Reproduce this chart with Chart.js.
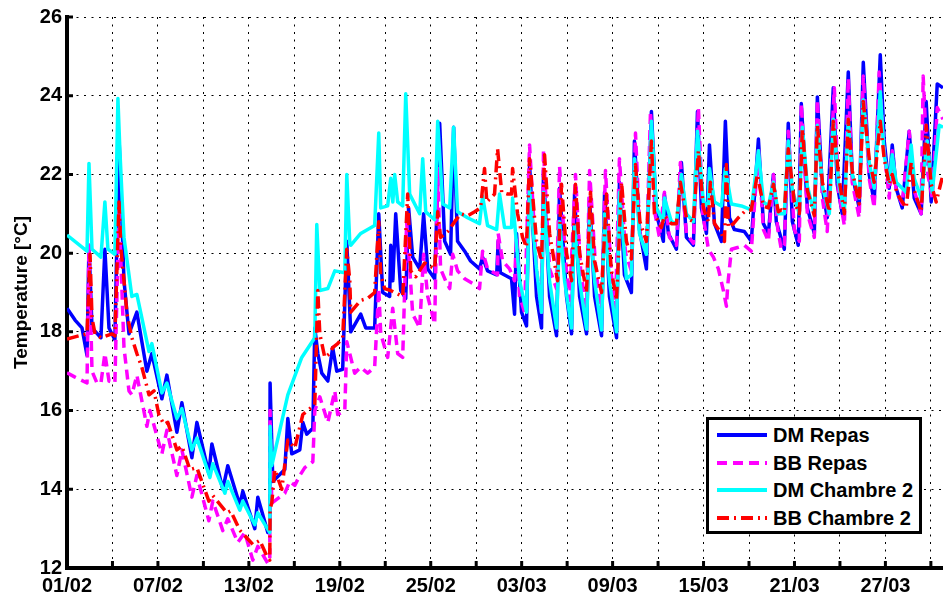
<!DOCTYPE html>
<html>
<head>
<meta charset="utf-8">
<title>Temperature</title>
<script src="https://cdn.jsdelivr.net/npm/chart.js@4.4.0/dist/chart.umd.min.js"></script>
<style>
  body { margin: 0; background: #fff; }
  #wrap { position: relative; width: 943px; height: 600px; }
  #legend {
    position: absolute; left: 706px; top: 417px; width: 216px; height: 117px;
    box-sizing: border-box; border: 3px solid #000; background: #fff;
    font: bold 20px "Liberation Sans", Arial, sans-serif; color: #000;
  }
  .row { position: absolute; left: 0; height: 28px; line-height: 28px; white-space: nowrap; }
  .row svg { position: absolute; left: 8px; top: 0; }
  .row span { position: absolute; left: 64px; top: 0; }
</style>
</head>
<body>
<div id="wrap">
  <canvas id="myChart" width="943" height="600"></canvas>
  <div id="legend"></div>
</div>
<script>
"use strict";

// days since 01/02, temperature in °C
const dmRepas = [[0,18.6],[0.53,18.3],[0.99,18.1],[1.32,17.4],[1.45,20.2],[1.65,18.1],[2.24,17.85],[2.5,20.1],[2.77,18.1],[3.16,17.8],[3.43,22.96],[3.76,19.3],[4.09,17.95],[4.61,18.5],[5.27,17.0],[5.6,17.45],[6.26,16.3],[6.59,16.9],[7.25,15.45],[7.58,16.2],[8.24,14.8],[8.57,15.7],[9.36,14.4],[9.56,15.15],[10.28,14.0],[10.61,14.6],[11.4,13.6],[11.6,13.95],[12.39,13.0],[12.59,13.8],[13.25,12.9],[13.38,12.95],[13.4,16.7],[13.58,14.2],[14.37,14.5],[14.57,15.8],[14.83,14.9],[15.36,15.0],[15.56,15.7],[15.82,15.4],[16.22,15.55],[16.35,18.1],[16.55,17.45],[16.81,16.95],[17.21,16.75],[17.53,17.6],[17.8,17.0],[18.19,17.05],[18.46,20.3],[18.72,18.0],[19.38,18.45],[19.71,18.1],[20.3,18.1],[20.57,21.0],[20.83,19.0],[21.29,18.9],[21.36,20.2],[21.5,19.3],[21.69,21.0],[22.02,19.05],[22.35,18.85],[22.54,21.15],[22.81,19.9],[23.27,19.6],[23.53,21.0],[23.8,19.6],[24.26,19.35],[24.59,23.3],[24.92,20.3],[25.31,19.97],[25.51,23.2],[25.77,20.3],[26.24,20.05],[26.63,19.8],[27.22,19.6],[27.42,19.9],[27.75,19.55],[28.35,19.45],[28.45,20.3],[28.6,19.5],[29.33,19.35],[29.53,18.45],[29.66,20.5],[29.99,18.5],[30.32,18.15],[30.52,22.25],[30.98,18.9],[31.31,18.1],[31.44,22.1],[31.84,18.9],[32.3,17.9],[32.5,21.65],[32.96,18.9],[33.29,17.95],[33.49,21.5],[33.82,18.9],[34.28,17.95],[34.48,21.4],[34.81,18.9],[35.27,17.9],[35.47,21.55],[35.79,18.9],[36.26,17.85],[36.45,21.8],[36.78,19.45],[37.24,19.0],[37.44,22.85],[37.77,20.6],[38.23,19.6],[38.56,23.6],[38.89,21.0],[39.35,20.3],[39.42,21.5],[39.68,20.5],[40.21,20.1],[40.54,22.3],[40.87,20.4],[41.33,20.2],[41.6,23.6],[41.86,21.15],[42.19,20.5],[42.39,22.75],[42.72,20.75],[43.18,20.3],[43.44,23.35],[43.71,20.9],[44.03,20.6],[44.69,20.55],[45.15,20.3],[45.62,22.9],[45.95,20.75],[46.28,20.5],[46.61,22.0],[46.8,20.8],[47.33,20.1],[47.59,23.3],[47.86,20.8],[48.25,20.2],[48.45,23.8],[48.85,21.15],[49.31,20.5],[49.51,23.97],[49.84,21.65],[50.16,20.9],[50.56,24.2],[50.82,21.75],[51.15,21.0],[51.55,24.6],[51.81,22.0],[52.27,21.15],[52.54,24.85],[52.93,22.0],[53.26,21.3],[53.66,25.04],[53.92,22.85],[54.25,21.65],[54.45,22.75],[54.71,21.65],[55.11,21.15],[55.57,23.1],[55.9,21.4],[56.36,21.0],[56.69,23.85],[57.02,21.3],[57.42,24.3],[57.8,24.2]];

const bbRepas = [[0,16.96],[0.53,16.85],[1.32,16.7],[1.45,20.2],[1.65,17.0],[1.98,16.7],[2.24,16.7],[2.5,17.45],[2.77,16.75],[3.16,16.7],[3.43,21.15],[3.76,17.6],[4.09,16.5],[4.28,16.4],[4.61,16.9],[5.27,15.6],[5.47,16.0],[6.26,14.9],[6.59,15.5],[7.25,14.35],[7.58,15.0],[8.24,13.8],[8.57,14.35],[9.36,13.2],[9.62,13.7],[10.28,12.95],[10.61,13.25],[11.27,12.65],[11.73,12.9],[12.26,12.2],[12.59,12.55],[13.25,12.12],[13.38,12.2],[13.4,16.0],[13.51,13.65],[14.37,13.9],[14.7,14.2],[15.03,14.1],[15.36,14.35],[15.69,14.55],[16.22,14.7],[16.35,16.0],[16.68,16.35],[17.21,15.7],[17.67,16.5],[17.86,15.9],[18.33,16.0],[18.46,17.75],[18.72,17.35],[18.98,16.95],[19.38,17.1],[19.84,16.95],[20.3,17.1],[20.57,19.1],[20.7,17.95],[21.16,17.35],[21.49,18.6],[21.82,17.45],[22.15,17.35],[22.41,20.8],[22.81,18.45],[23.01,18.3],[23.27,18.1],[23.53,19.97],[23.8,18.9],[24.26,18.2],[24.46,22.15],[24.65,19.6],[24.98,19.3],[25.25,19.1],[25.45,19.97],[25.77,19.55],[26.24,19.35],[26.9,19.2],[27.22,19.1],[27.42,20.05],[27.75,19.6],[28.41,19.45],[28.45,20.5],[28.74,19.8],[29.2,19.6],[29.53,19.3],[29.66,20.4],[29.86,18.9],[30.19,18.5],[30.52,22.75],[30.98,19.6],[31.31,18.5],[31.44,22.6],[31.84,19.6],[32.3,19.1],[32.5,22.2],[32.96,19.5],[33.16,18.8],[33.55,22.0],[33.9,19.5],[34.28,18.6],[34.48,22.1],[34.9,19.5],[35.27,18.6],[35.53,22.1],[35.9,19.5],[36.19,18.6],[36.45,22.4],[36.85,20.0],[37.24,19.55],[37.51,23.05],[37.8,20.5],[38.23,19.97],[38.5,23.6],[38.8,21.0],[39.09,20.4],[39.42,21.55],[39.75,20.4],[40.21,20.2],[40.47,22.3],[40.87,20.5],[41.33,20.25],[41.66,23.7],[41.95,21.0],[42.32,20.1],[42.65,19.9],[42.98,19.6],[43.31,19.05],[43.51,18.65],[43.6,19.2],[43.84,20.1],[44.3,20.15],[44.69,20.2],[45.15,20.05],[45.62,22.65],[45.95,20.6],[46.28,20.3],[46.61,22.0],[46.9,20.6],[47.13,20.1],[47.33,20.2],[47.59,23.1],[47.99,20.6],[48.32,20.3],[48.45,23.8],[48.85,21.0],[49.31,20.4],[49.51,23.9],[49.84,21.4],[50.16,20.55],[50.63,24.2],[50.9,21.6],[51.29,20.7],[51.55,24.45],[51.81,21.8],[52.27,20.9],[52.54,24.5],[52.93,21.9],[53.26,21.15],[53.59,24.6],[53.92,22.6],[54.25,21.4],[54.45,22.6],[54.71,21.6],[55.11,21.25],[55.57,23.1],[55.9,21.6],[56.36,21.0],[56.49,24.5],[56.8,22.0],[57.09,21.4],[57.42,23.7],[57.8,23.4]];

const dmChambre2 = [[0,20.46],[1.32,20.05],[1.45,22.28],[1.65,20.1],[2.24,19.9],[2.5,21.3],[2.7,20.1],[3.16,19.97],[3.36,23.93],[3.49,22.6],[3.76,20.4],[4.28,18.9],[4.61,18.95],[5.41,17.5],[5.6,17.7],[6.26,16.45],[6.59,16.7],[7.25,15.8],[7.58,16.05],[8.24,15.0],[8.57,15.3],[9.43,14.3],[9.62,14.65],[10.42,13.9],[10.61,14.2],[11.4,13.47],[11.6,13.7],[12.39,13.1],[12.59,13.4],[13.38,12.9],[13.4,15.6],[13.51,14.6],[14.57,16.4],[15.49,17.35],[16.35,17.85],[16.48,20.73],[16.68,19.05],[17.21,19.1],[17.67,19.55],[18.33,19.5],[18.46,22.0],[18.66,20.25],[18.72,20.2],[19.38,20.5],[20.3,20.7],[20.57,23.05],[20.7,21.15],[21.16,21.2],[21.36,21.9],[21.5,21.3],[21.62,22.0],[21.82,21.3],[22.15,21.2],[22.35,24.05],[22.61,21.5],[23.27,21.0],[23.47,22.4],[23.67,21.05],[24.26,20.85],[24.46,23.35],[24.79,21.25],[25.25,21.15],[25.51,23.2],[25.77,21.05],[26.43,20.9],[27.22,20.75],[27.42,21.45],[27.75,20.7],[28.35,20.6],[28.54,21.5],[28.87,20.65],[29.33,20.65],[29.4,21.4],[29.86,19.3],[30.32,18.5],[30.52,21.65],[30.98,19.6],[31.31,18.5],[31.44,21.55],[31.84,19.3],[32.3,18.1],[32.5,20.8],[32.83,19.3],[33.29,18.1],[33.49,20.7],[33.82,19.3],[34.28,18.07],[34.48,20.9],[34.81,19.3],[35.27,18.05],[35.47,21.0],[35.79,19.3],[36.26,18.0],[36.45,21.55],[36.91,19.35],[37.24,19.45],[37.44,22.4],[37.77,20.5],[38.23,19.97],[38.56,23.35],[38.89,21.15],[39.35,20.8],[39.42,21.4],[39.88,20.8],[40.21,20.75],[40.54,22.0],[40.87,21.0],[41.33,20.8],[41.6,23.1],[41.99,21.3],[42.3,21.2],[42.39,22.15],[42.72,21.3],[43.18,21.2],[43.44,22.15],[43.84,21.25],[44.5,21.2],[45.15,21.1],[45.62,22.6],[45.95,21.3],[46.28,21.2],[46.61,21.8],[46.93,21.0],[47.33,21.0],[47.59,22.85],[47.86,21.6],[48.32,21.0],[48.52,23.2],[48.85,21.7],[49.31,21.0],[49.51,23.25],[49.84,21.7],[50.3,21.0],[50.56,23.4],[50.9,21.8],[51.29,21.05],[51.55,23.4],[51.81,22.0],[52.27,21.4],[52.54,23.9],[52.93,22.3],[53.26,21.65],[53.66,24.1],[53.92,22.5],[54.25,21.8],[54.45,22.5],[54.71,21.8],[55.37,21.55],[55.7,22.75],[55.9,21.9],[56.36,21.4],[56.76,22.85],[57.09,21.55],[57.55,23.25],[57.8,23.2]];

const bbChambre2 = [[0,17.82],[0.79,17.9],[1.32,17.95],[1.52,19.97],[1.65,18.35],[1.85,17.95],[2.24,17.85],[2.97,17.95],[3.16,17.9],[3.43,21.3],[3.56,20.1],[3.76,19.3],[3.96,18.45],[4.28,17.85],[4.61,17.45],[4.94,17.1],[5.41,16.4],[5.74,16.5],[6.06,15.9],[6.39,15.65],[6.65,15.7],[7.25,15.0],[7.58,15.1],[8.11,14.5],[8.57,14.55],[9.36,13.7],[9.6,13.85],[10.55,13.4],[10.8,13.45],[11.4,12.96],[12.26,12.6],[12.72,12.7],[13.25,12.25],[13.38,12.2],[13.4,13.5],[13.51,13.65],[13.71,14.5],[14.17,14.0],[14.57,15.25],[15.03,15.05],[15.56,15.9],[16.35,16.15],[16.55,19.05],[16.68,17.95],[17.01,17.35],[17.34,17.45],[17.53,17.6],[17.86,17.7],[18.19,17.85],[18.46,20.1],[18.66,19.3],[18.72,18.5],[19.38,18.8],[19.84,18.85],[20.3,19.0],[20.57,20.8],[20.7,19.45],[20.96,19.1],[21.36,19.05],[22.15,18.9],[22.48,21.5],[22.68,19.55],[23.01,19.4],[23.34,19.6],[23.6,19.75],[24.26,19.6],[24.46,21.05],[24.65,20.4],[25.12,20.55],[25.58,20.8],[25.97,21.0],[26.43,20.95],[26.9,21.05],[27.29,21.15],[27.55,22.15],[27.7,21.3],[28.21,21.5],[28.41,22.65],[28.68,21.55],[29.07,21.5],[29.33,21.5],[29.4,22.15],[29.73,21.0],[30.06,20.4],[30.32,20.15],[30.52,22.4],[30.98,20.3],[31.31,19.8],[31.51,22.5],[31.84,20.5],[32.3,19.45],[32.37,19.3],[32.63,21.75],[32.96,20.0],[33.29,19.3],[33.55,21.75],[33.82,20.0],[34.28,19.0],[34.54,21.55],[34.81,19.8],[35.27,19.0],[35.6,21.5],[35.9,19.6],[36.26,18.8],[36.59,21.8],[36.91,20.3],[37.24,19.85],[37.51,22.25],[37.8,20.8],[38.23,20.3],[38.56,22.85],[38.76,21.0],[39.22,20.65],[39.42,20.95],[39.88,20.75],[40.21,20.75],[40.47,21.8],[40.87,20.9],[41.33,20.8],[41.66,22.6],[41.99,21.15],[42.32,20.8],[42.45,21.8],[42.72,20.75],[43.18,20.5],[43.38,20.3],[43.51,22.25],[43.64,20.65],[43.97,20.75],[44.3,20.9],[44.69,21.05],[45.15,21.1],[45.55,22.0],[45.95,21.2],[46.28,21.15],[46.61,21.75],[46.93,21.05],[47.13,21.1],[47.33,21.05],[47.59,22.65],[47.99,21.3],[48.32,21.0],[48.52,23.15],[48.85,21.6],[49.31,20.95],[49.51,23.25],[49.84,21.8],[50.3,21.05],[50.56,23.35],[50.9,22.0],[51.29,21.0],[51.55,23.4],[51.81,22.1],[52.27,21.25],[52.54,23.85],[52.93,22.4],[53.26,21.8],[53.66,23.35],[53.92,22.4],[54.25,21.75],[54.45,22.0],[54.78,21.5],[55.37,21.15],[55.7,22.3],[55.9,21.6],[56.36,21.05],[56.69,23.25],[57.02,21.75],[57.35,21.3],[57.8,22.0]];

const seriesNames = ["DM Repas", "BB Repas", "DM Chambre 2", "BB Chambre 2"];
const xTickDays = [0, 3, 6, 9, 12, 15, 18, 21, 24, 27, 30, 33, 36, 39, 42, 45, 48, 51, 54, 57];
const xTickLabels = ["01/02", "", "07/02", "", "13/02", "", "19/02", "", "25/02", "", "03/03", "", "09/03", "", "15/03", "", "21/03", "", "27/03", ""];
const yTicks = [12, 14, 16, 18, 20, 22, 24, 26];

const FONT = '"Liberation Sans", Arial, sans-serif';

function toXY(arr) {
    return arr.map(p => ({ x: p[0], y: p[1] }));
}

const styles = [
    { color: "#0000ff", dash: [], order: 4 },
    { color: "#ff00ff", dash: [10, 6], order: 3 },
    { color: "#00ffff", dash: [], order: 2 },
    { color: "#ff0000", dash: [12, 5, 2, 5], order: 1 }
];
const allData = [dmRepas, bbRepas, dmChambre2, bbChambre2];

const datasets = allData.map((d, i) => ({
    label: seriesNames[i],
    data: toXY(d),
    borderColor: styles[i].color,
    borderDash: styles[i].dash,
    borderWidth: 3.5,
    borderJoinStyle: "round",
    pointRadius: 0,
    tension: 0,
    fill: false,
    order: styles[i].order
}));

// MATLAB style ticks pointing inside the axes
const innerTicks = {
    id: "innerTicks",
    beforeDatasetsDraw(chart) {
        const { ctx, chartArea, scales } = chart;
        ctx.save();
        ctx.strokeStyle = "#000";
        ctx.lineWidth = 3;
        ctx.beginPath();
        scales.x.ticks.forEach(t => {
            const px = scales.x.getPixelForValue(t.value);
            ctx.moveTo(px, chartArea.bottom);
            ctx.lineTo(px, chartArea.bottom - 7);
        });
        scales.y.ticks.forEach(t => {
            const py = scales.y.getPixelForValue(t.value);
            ctx.moveTo(chartArea.left, py);
            ctx.lineTo(chartArea.left + 6, py);
        });
        ctx.stroke();
        ctx.restore();
    }
};

const gridDotted = { color: "#000", lineWidth: 1, drawTicks: false };
const borderAxis = { display: true, color: "#000", width: 4, dash: [2, 5.5] };

new Chart(document.getElementById("myChart"), {
    type: "line",
    data: { datasets: datasets },
    options: {
        responsive: false,
        animation: false,
        devicePixelRatio: 1,
        layout: { padding: { top: 15, right: 0, bottom: 0, left: 0 } },
        plugins: { legend: { display: false }, tooltip: { enabled: false } },
        scales: {
            x: {
                type: "linear",
                min: 0,
                max: 57.8,
                afterBuildTicks: s => { s.ticks = xTickDays.map(v => ({ value: v })); },
                afterFit: s => { s.height = 32; },
                grid: gridDotted,
                border: borderAxis,
                ticks: {
                    autoSkip: false, maxRotation: 0, padding: 6, color: "#000",
                    font: { family: FONT, size: 20, weight: "bold" },
                    callback: v => xTickLabels[xTickDays.indexOf(v)] || ""
                }
            },
            y: {
                type: "linear",
                min: 12,
                max: 26,
                afterBuildTicks: s => { s.ticks = yTicks.map(v => ({ value: v })); },
                afterFit: s => { s.width = 67; },
                grid: gridDotted,
                border: borderAxis,
                title: {
                    display: true, text: "Temperature [°C]", color: "#000",
                    font: { family: FONT, size: 19, weight: "bold" },
                    padding: { top: 10, bottom: 0 }
                },
                ticks: {
                    padding: 5, color: "#000",
                    font: { family: FONT, size: 20, weight: "bold" }
                }
            }
        }
    },
    plugins: [innerTicks]
});

// legend box
const legend = document.getElementById("legend");
const rowCenters = [15, 43, 70, 98];
seriesNames.forEach((name, i) => {
    const row = document.createElement("div");
    row.className = "row";
    row.style.top = (rowCenters[i] - 14) + "px";
    row.style.width = "205px";
    const dash = styles[i].dash.length ? ` stroke-dasharray="${styles[i].dash.join(" ")}"` : "";
    row.innerHTML = `<svg width="50" height="28"><line x1="0" y1="14" x2="50" y2="14" stroke="${styles[i].color}" stroke-width="4"${dash}/></svg><span>${name}</span>`;
    legend.appendChild(row);
});
</script>
</body>
</html>
